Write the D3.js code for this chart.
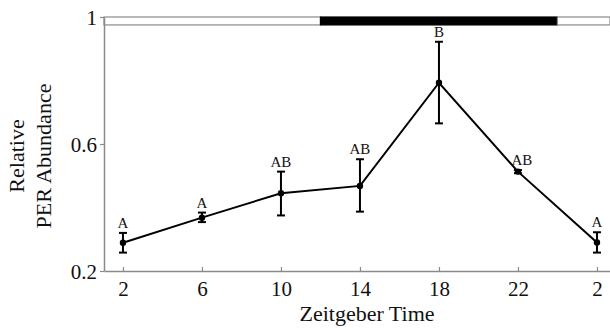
<!DOCTYPE html>
<html>
<head>
<meta charset="utf-8">
<script src="https://cdn.jsdelivr.net/npm/d3@7"></script>
<style>
body { margin: 0; background: #fff; }
text { font-family: "Liberation Serif", "DejaVu Serif", serif; fill: #111; }
</style>
</head>
<body>
<script>
// zeitgeber times (26 = 2 of the next day)
var zt = [2, 6, 10, 14, 18, 22, 26];
var tickLabels = ["2", "6", "10", "14", "18", "22", "2"];
var meanVals = [0.289, 0.368, 0.445, 0.468, 0.793, 0.513, 0.290];
var errLow = [0.258, 0.354, 0.375, 0.387, 0.665, 0.508, 0.258];
var errHigh = [0.320, 0.384, 0.513, 0.552, 0.922, 0.518, 0.322];
var groups = ["A", "A", "AB", "AB", "B", "AB", "A"];
var yTicks = [0.2, 0.6, 1];
// light/dark bar: [start, end, dark?]
var lightDark = [[1.04, 12, false], [12, 24, true], [24, 26.66, false]];

var width = 610, height = 328;
var mLeft = 104, mRight = 610, mTop = 17, mBottom = 271;

var svg = d3.select("body").append("svg")
	.attr("width", width)
	.attr("height", height);

var x = d3.scaleLinear().domain([1.04, 26.66]).range([mLeft, mRight]);
var y = d3.scaleLinear().domain([0.2, 1]).range([mBottom, mTop]);

var axisCol = "#8a8a8a";

// light / dark bar across the top
svg.selectAll(".ld")
	.data(lightDark)
	.enter().append("rect")
	.attr("class", "ld")
	.attr("x", function (d) { return x(d[0]); })
	.attr("y", y(1))
	.attr("width", function (d) { return x(d[1]) - x(d[0]); })
	.attr("height", y(0.975) - y(1))
	.attr("fill", function (d) { return d[2] ? "#000" : "#fff"; })
	.attr("stroke", function (d) { return d[2] ? "#000" : axisCol; })
	.attr("stroke-width", 1.2);

// x axis, ticks point inward
var xAxis = svg.append("g")
	.attr("transform", "translate(0," + mBottom + ")")
	.call(d3.axisBottom(x).tickValues(zt)
		.tickFormat(function (d, i) { return tickLabels[i]; })
		.tickSizeInner(-4).tickSizeOuter(0).tickPadding(10));
xAxis.select(".domain").attr("stroke", axisCol).attr("stroke-width", 1.5);
xAxis.selectAll(".tick line").attr("stroke", axisCol).attr("stroke-width", 1.2);
xAxis.selectAll("text").attr("font-size", 21).attr("fill", "#111")
	.attr("font-family", "Liberation Serif, serif");

// y axis
var yAxis = svg.append("g")
	.attr("transform", "translate(" + mLeft + ",0)")
	.call(d3.axisLeft(y).tickValues(yTicks)
		.tickFormat(d3.format("~g"))
		.tickSizeInner(4).tickSizeOuter(0).tickPadding(3));
yAxis.select(".domain").attr("stroke", axisCol).attr("stroke-width", 1.5);
yAxis.selectAll(".tick line").attr("stroke", axisCol).attr("stroke-width", 1.2);
yAxis.selectAll("text").attr("font-size", 21).attr("fill", "#111")
	.attr("dy", "0.38em")
	.attr("font-family", "Liberation Serif, serif");

// axis titles
svg.append("text")
	.attr("x", 367).attr("y", 321)
	.attr("text-anchor", "middle")
	.attr("font-size", 22)
	.text("Zeitgeber Time");

var yt = svg.append("text")
	.attr("transform", "translate(24,156) rotate(-90)")
	.attr("text-anchor", "middle")
	.attr("font-size", 22);
yt.append("tspan").attr("x", 0).attr("dy", 0).text("Relative");
yt.append("tspan").attr("x", 0).attr("dy", 27).text("PER Abundance");

var pts = zt.map(function (d, i) {
	return { t: d, v: meanVals[i], lo: errLow[i], hi: errHigh[i], g: groups[i] };
});

// line
svg.append("path")
	.datum(pts)
	.attr("fill", "none")
	.attr("stroke", "#000")
	.attr("stroke-width", 2)
	.attr("d", d3.line()
		.x(function (d) { return x(d.t); })
		.y(function (d) { return y(d.v); }));

// error bars
var eb = svg.selectAll(".eb")
	.data(pts)
	.enter().append("g")
	.attr("class", "eb")
	.attr("stroke", "#000")
	.attr("stroke-width", 2);
eb.append("line")
	.attr("x1", function (d) { return x(d.t); })
	.attr("x2", function (d) { return x(d.t); })
	.attr("y1", function (d) { return y(d.lo); })
	.attr("y2", function (d) { return y(d.hi); });
eb.append("line")
	.attr("x1", function (d) { return x(d.t) - 4; })
	.attr("x2", function (d) { return x(d.t) + 4; })
	.attr("y1", function (d) { return y(d.hi); })
	.attr("y2", function (d) { return y(d.hi); });
eb.append("line")
	.attr("x1", function (d) { return x(d.t) - 4; })
	.attr("x2", function (d) { return x(d.t) + 4; })
	.attr("y1", function (d) { return y(d.lo); })
	.attr("y2", function (d) { return y(d.lo); });

// points
svg.selectAll(".pt")
	.data(pts)
	.enter().append("circle")
	.attr("class", "pt")
	.attr("cx", function (d) { return x(d.t); })
	.attr("cy", function (d) { return y(d.v); })
	.attr("r", 3.2)
	.attr("fill", "#000");

// significance letters
svg.selectAll(".grp")
	.data(pts)
	.enter().append("text")
	.attr("class", "grp")
	.attr("x", function (d, i) { return x(d.t) + (i == 5 ? 4 : 0); })
	.attr("y", function (d) { return y(d.hi) - 5; })
	.attr("text-anchor", "middle")
	.attr("font-size", 15)
	.text(function (d) { return d.g; });
</script>
</body>
</html>
